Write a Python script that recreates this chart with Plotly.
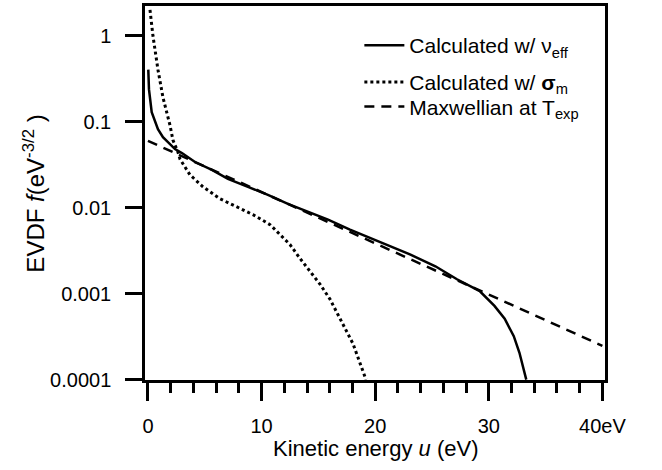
import plotly.graph_objects as go

# --- data (u in eV, f in eV^-3/2) ---
u_veff = [0.03, 0.09, 0.33, 0.62, 0.88, 1.32, 1.76, 2.38, 2.99, 4.14, 5.63, 7.04,
          8.80, 10.56, 12.32, 14.08, 15.85, 17.78, 20.4, 23.06, 25.3, 27.2, 29.2,
          30.5, 31.4, 32.2, 32.7, 33.3]
f_veff = [0.404, 0.238, 0.129, 0.101, 0.0819, 0.0662, 0.058, 0.0481, 0.0432, 0.0340,
          0.0275, 0.0216, 0.0175, 0.0141, 0.0111, 0.0090, 0.00727, 0.00557, 0.00404,
          0.00286, 0.00208, 0.00147, 0.00107, 7.2e-4, 5.1e-4, 3.2e-4, 2.05e-4, 1.0e-4]

u_sigm = [0.18, 0.44, 0.88, 1.32, 1.94, 2.20, 2.64, 2.82, 3.70, 4.84, 6.34, 7.83,
          9.24, 10.74, 11.62, 12.50, 13.38, 14.26, 15.14, 16.02, 16.90, 18.05, 19.19]
f_sigm = [2.0, 1.0, 0.404, 0.192, 0.0911, 0.0611, 0.0444, 0.0368, 0.0241, 0.0175,
          0.0127, 0.0103, 0.0083, 0.00636, 0.00487, 0.00373, 0.00257, 0.00182,
          0.00129, 8.63e-4, 5.21e-4, 2.61e-4, 1.0e-4]

u_maxw = [0, 10, 20, 30, 40]
f_maxw = [0.06, 0.0152, 0.00385, 9.7e-4, 2.47e-4]

x_tickvals = [0, 10, 20, 30, 40]
x_ticktext = ["0", "10", "20", "30", "40eV"]
y_tickvals = [1e-4, 1e-3, 1e-2, 1e-1, 1]
y_ticktext = ["0.0001", "0.001", "0.01", "0.1", "1"]

names = ["Calculated w/ \u03bd<sub>eff</sub>",
         "Calculated w/ <b>\u03c3</b><sub>m</sub>",
         "Maxwellian at T<sub>exp</sub>"]

FONT = "Liberation Sans, Arial, sans-serif"

fig = go.Figure()
fig.add_trace(go.Scatter(x=u_veff, y=f_veff, mode="lines", name=names[0],
                         legend="legend", line=dict(color="black", width=2.5)))
fig.add_trace(go.Scatter(x=u_sigm, y=f_sigm, mode="lines", name=names[1],
                         legend="legend2",
                         line=dict(color="black", width=3, dash="3px,3px")))
fig.add_trace(go.Scatter(x=u_maxw, y=f_maxw, mode="lines", name=names[2],
                         legend="legend3",
                         line=dict(color="black", width=2.5, dash="10px,7px")))

leg_common = dict(xanchor="left", yanchor="top", bgcolor="rgba(0,0,0,0)",
                  font=dict(size=21, family=FONT), itemwidth=40)

fig.update_layout(
    width=662, height=470,
    margin=dict(l=145, r=57, t=3, b=90),
    paper_bgcolor="white", plot_bgcolor="white",
    font=dict(family=FONT, size=20, color="black"),
    showlegend=True,
    legend=dict(x=0.466, y=0.949, **leg_common),
    legend2=dict(x=0.466, y=0.851, **leg_common),
    legend3=dict(x=0.466, y=0.785, **leg_common),
    annotations=[
        dict(text="Kinetic energy <i>u</i> (eV)", xref="paper", yref="paper",
             x=0.5, y=-0.184, xanchor="center", yanchor="middle",
             showarrow=False, font=dict(size=22, family=FONT)),
        dict(text="EVDF <i>f</i>(eV<sup>-3/2</sup> )", xref="paper", yref="paper",
             x=-0.241, y=0.4987, xanchor="center", yanchor="middle", textangle=-90,
             showarrow=False, font=dict(size=24, family=FONT)),
    ],
)

fig.update_xaxes(
    range=[-0.26, 40.23], showgrid=False, zeroline=False,
    showline=True, linecolor="black", linewidth=2.5, mirror=True,
    ticks="outside", ticklen=18, tickwidth=2.5, tickcolor="black",
    tickvals=x_tickvals, ticktext=x_ticktext, ticklabelstandoff=8,
    minor=dict(dtick=2, tick0=0, ticks="outside", ticklen=10, tickwidth=2.5,
               tickcolor="black", showgrid=False),
)
fig.update_yaxes(
    type="log", range=[-4.005, 0.347], showgrid=False, zeroline=False,
    showline=True, linecolor="black", linewidth=2.5, mirror=True,
    ticks="outside", ticklen=17, tickwidth=2.5, tickcolor="black",
    tickvals=y_tickvals, ticktext=y_ticktext, ticklabelstandoff=10,
)

fig.write_html("out.html")
